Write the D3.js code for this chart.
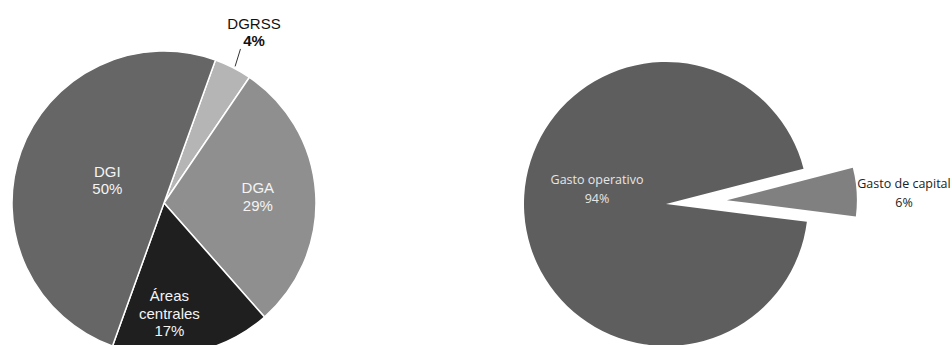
<!DOCTYPE html>
<html>
<head>
<meta charset="utf-8">
<script src="https://cdn.jsdelivr.net/npm/d3@7"></script>
<style>
  body { margin: 0; background: #fff; }
  svg { display: block; }
</style>
</head>
<body>
<svg id="chart" width="952" height="345"></svg>
<script>
// left pie: budget share by area
const areaNames = ['DGRSS', 'DGA', 'Áreas centrales', 'DGI'];
const areaShares = [4, 29, 17, 50];
const areaLabels = [['DGRSS', '4%'], ['DGA', '29%'], ['Áreas', 'centrales', '17%'], ['DGI', '50%']];

// right pie: spending type
const costNames = ['Gasto operativo', 'Gasto de capital'];
const costShares = [94, 6];
const costLabels = [['Gasto operativo', '94%'], ['Gasto de capital', '6%']];

const deg = Math.PI / 180;
const svg = d3.select('#chart');

/* ---------- left pie ---------- */
const left = { cx: 164, cy: 203, r: 152 };
const areaColor = d3.scaleOrdinal().domain(areaNames)
  .range(['#b5b5b5', '#8f8f8f', '#1f1f1f', '#666666']);

const areaPie = d3.pie().sort(null)
  .startAngle(19.8 * deg).endAngle(19.8 * deg + 2 * Math.PI);
const areaArcs = areaPie(areaShares)
  .map((a, i) => ({ ...a, name: areaNames[i], lines: areaLabels[i] }));

const arcL = d3.arc().innerRadius(0).outerRadius(left.r);

const gL = svg.append('g')
  .attr('transform', 'translate(' + left.cx + ',' + left.cy + ')');

gL.selectAll('path')
  .data(areaArcs)
  .enter()
  .append('path')
  .attr('d', arcL)
  .style('fill', d => areaColor(d.name))
  .style('stroke', '#fff')
  .style('stroke-width', 1.5);

// label placement (radius, angle offset) per slice, like Excel "best fit"
const labelPlace = {
  'DGRSS': { r: 193, da: 0.8, color: '#111', out: true },
  'DGA': { r: 94, da: 0, color: '#f4f4f4' },
  'Áreas centrales': { r: 111, da: 8, color: '#f4f4f4' },
  'DGI': { r: 61, da: 2, color: '#f4f4f4' }
};
const lineH = 17.5;

areaArcs.forEach(d => {
  const p = labelPlace[d.name];
  const a = (d.startAngle + d.endAngle) / 2 + p.da * deg;
  const x = p.r * Math.sin(a), y = -p.r * Math.cos(a);
  const n = d.lines.length;
  const t = gL.append('text')
    .attr('text-anchor', 'middle')
    .style('font-family', '"Liberation Sans", Arial, sans-serif')
    .style('font-size', '15px')
    .style('fill', p.color);
  d.lines.forEach((s, k) => {
    t.append('tspan')
      .attr('x', x)
      .attr('y', y + (k - (n - 1) / 2) * lineH + 5)
      .style('font-weight', p.out && k === 1 ? 'bold' : 'normal')
      .text(s);
  });
  if (p.out) {
    // leader line from label down to the slice edge
    const a0 = (d.startAngle + d.endAngle) / 2;
    const r0 = left.r + 2, r1 = left.r + 20;
    gL.append('line')
      .attr('x1', r1 * Math.sin(a0 - 0.6 * deg)).attr('y1', -r1 * Math.cos(a0 - 0.6 * deg))
      .attr('x2', r0 * Math.sin(a0 + 0.5 * deg)).attr('y2', -r0 * Math.cos(a0 + 0.5 * deg))
      .style('stroke', '#333')
      .style('stroke-width', 1);
  }
});

/* ---------- right pie ---------- */
const right = { cx: 666, cy: 204, r: 142, rExploded: 130, explode: 61 };
const costColor = d3.scaleOrdinal().domain(costNames).range(['#5e5e5e', '#808080']);

const costPie = d3.pie().sort(null)
  .startAngle(97.2 * deg).endAngle(97.2 * deg + 2 * Math.PI);
const costArcs = costPie(costShares).map((a, i) => ({ ...a, name: costNames[i], lines: costLabels[i] }));

const gR = svg.append('g')
  .attr('transform', 'translate(' + right.cx + ',' + right.cy + ')');

costArcs.forEach((d, i) => {
  const mid = (d.startAngle + d.endAngle) / 2;
  const off = i === 1 ? right.explode : 0;
  const rr = i === 1 ? right.rExploded : right.r;
  const ox = off * Math.sin(mid), oy = -off * Math.cos(mid);
  const arc = d3.arc().innerRadius(0).outerRadius(rr);
  gR.append('path')
    .attr('transform', 'translate(' + ox + ',' + oy + ')')
    .attr('d', arc(d))
    .style('fill', costColor(d.name));

  // labels
  let lx, ly, color;
  if (i === 0) {
    lx = -69; ly = -20; color = '#e6e6e6';
  } else {
    lx = 238; ly = -16; color = '#222';
  }
  const t = gR.append('text')
    .attr('text-anchor', 'middle')
    .style('font-family', '"Open Sans", "Noto Sans", sans-serif')
    .style('font-size', '12.5px')
    .style('fill', color);
  d.lines.forEach((s, k) => {
    t.append('tspan')
      .attr('x', lx)
      .attr('y', ly + k * 18.5)
      .text(s);
  });
});
</script>
</body>
</html>
